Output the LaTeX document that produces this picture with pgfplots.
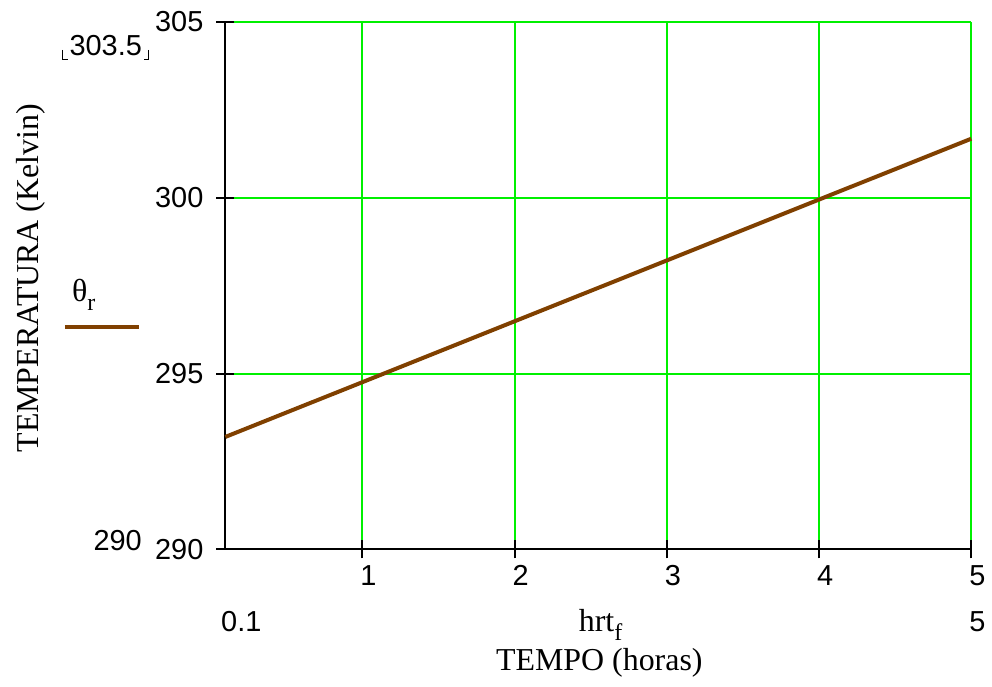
\documentclass[border=0pt]{standalone}
\usepackage{fontspec}
\setmainfont{Liberation Serif}
\newfontfamily\tickfont{Liberation Sans}
\usepackage{pgfplots}
\pgfplotsset{compat=1.18}
\definecolor{mcbrown}{RGB}{128,64,0}
\definecolor{mcgreen}{RGB}{0,240,0}
\begin{document}
\begin{tikzpicture}[x=1pt,y=1pt]
\begin{axis}[
  at={(0pt,0pt)}, anchor=south west,
  scale only axis, width=374pt, height=264.5pt,
  xmin=0.1, xmax=5, ymin=290, ymax=305,
  xtick={1,2,3,4,5}, ytick={290,295,300,305},
  axis x line*=bottom, axis y line*=left,
  axis line style={-, line width=1pt, black},
  grid=major, grid style={color=mcgreen, line width=1pt},
  tick align=center, major tick length=9pt,
  tick style={black, line width=1pt},
  /pgf/number format/assume math mode=true,
  ticklabel style={font=\tickfont\fontsize{14.5}{16}\selectfont},
  xticklabel style={xshift=3pt},
  yticklabel style={xshift=-3pt},
  clip=false,
]
\addplot[color=mcbrown, line width=2pt] coordinates {(0.1,293.2) (5,301.68)};
\end{axis}
\node[font=\tickfont\fontsize{14.5}{16}\selectfont] at (-60,252.5) {303.5};
\draw[line width=0.6pt] (-81.5,250.5)--(-81.5,245.5)--(-79,245.5);
\draw[line width=0.6pt] (-38.5,250.5)--(-38.5,245.5)--(-41,245.5);
\node[font=\tickfont\fontsize{14.5}{16}\selectfont] at (-54,4.5) {290};
\node[font=\tickfont\fontsize{14.5}{16}\selectfont] at (8,-36) {0.1};
\node[font=\tickfont\fontsize{14.5}{16}\selectfont] at (377,-36) {5};
\node[font=\fontsize{16}{18}\selectfont, anchor=base west, inner sep=0pt] at (177,-41) {hrt\raisebox{-0.3em}{\fontsize{12}{12}\selectfont f}};
\node[font=\fontsize{16}{18}\selectfont, anchor=base, inner sep=0pt] at (187.5,-60.5) {TEMPO (horas)};
\node[font=\fontsize{16}{18}\selectfont, rotate=90] at (-97.5,136) {TEMPERATURA (Kelvin)};
\node[font=\fontsize{16}{18}\selectfont, anchor=base west, inner sep=0pt] at (-77,124.5) {θ\raisebox{-0.3em}{\fontsize{12}{12}\selectfont r}};
\draw[mcbrown, line width=2pt] (-80.5,111.5)--(-43.5,111.5);
\path (-113,-68.5) rectangle (383,275.5);
\end{tikzpicture}
\end{document}
